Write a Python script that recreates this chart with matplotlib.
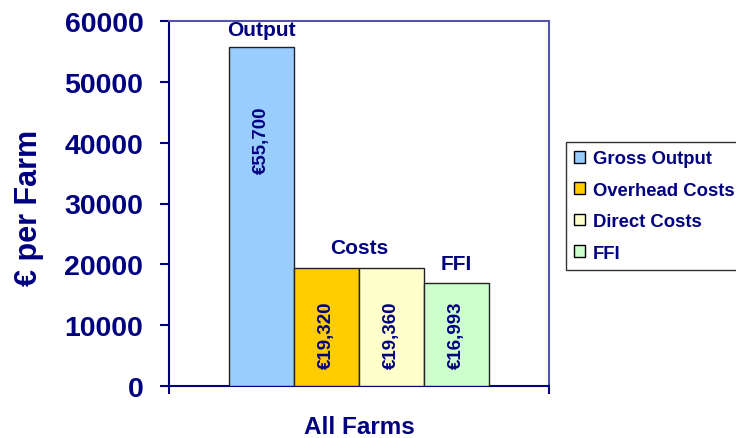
import matplotlib
matplotlib.use('Agg')
import matplotlib.pyplot as plt
import numpy as np

# Data
categories = ['Gross Output', 'Overhead Costs', 'Direct Costs', 'FFI']
values = [55700, 19320, 19360, 16993]
bar_colors = ['#99CCFF', '#FFCC00', '#FFFFCC', '#CCFFCC']
group_labels = ['Output', 'Costs', 'FFI']
x_label = 'All Farms'
y_label = '€ per Farm'
y_ticks = [0, 10000, 20000, 30000, 40000, 50000, 60000]

NAVY = '#000080'


def value_text(v):
    return '€{:,}'.format(v)


def graph(path):
    plt.rcParams['font.family'] = ['Liberation Sans', 'DejaVu Sans']
    plt.rcParams['font.weight'] = 'bold'

    fig = plt.figure(figsize=(7.36, 4.39), dpi=100)
    ax = fig.add_axes([169 / 736, 1 - 387 / 439, 380 / 736, 365 / 439])

    # Bars, one group with four series
    w = 0.171
    xs = (np.arange(len(values)) - 1.5) * w
    ax.bar(xs, values, width=w, color=bar_colors, edgecolor='#222222',
           linewidth=1.0, zorder=3)

    # Value labels inside the bars (rotated)
    label_pos = [40600, 8550, 8550, 8550]
    for x, v, yp in zip(xs, values, label_pos):
        ax.text(x, yp, value_text(v), rotation=90, ha='center', va='center',
                fontsize=13.5, fontweight='bold', color=NAVY, zorder=4)

    # Group labels above the bars
    ax.annotate(group_labels[0], (xs[0], values[0]), xytext=(0, 6),
                textcoords='offset points', ha='center', va='bottom',
                fontsize=15, fontweight='bold', color=NAVY)
    ax.annotate(group_labels[1], ((xs[1] + xs[2]) / 2, max(values[1], values[2])),
                xytext=(0, 8), textcoords='offset points', ha='center',
                va='bottom', fontsize=15, fontweight='bold', color=NAVY)
    ax.annotate(group_labels[2], (xs[3], values[3]), xytext=(0, 7),
                textcoords='offset points', ha='center', va='bottom',
                fontsize=15, fontweight='bold', color=NAVY)

    # Axes
    ax.set_xlim(-0.5, 0.5)
    ax.set_ylim(0, 60000)
    ax.set_yticks(y_ticks)
    ax.set_yticklabels([str(t) for t in y_ticks], fontsize=20.5,
                       fontweight='bold', color=NAVY)
    ax.set_xticks([-0.5, 0.5])
    ax.set_xticklabels(['', ''])
    ax.tick_params(axis='y', direction='out', length=6.5, width=1.5,
                   color=NAVY, pad=12)
    ax.tick_params(axis='x', direction='out', length=6, width=1.5,
                   color=NAVY)
    for side in ['left', 'bottom']:
        ax.spines[side].set_color(NAVY)
        ax.spines[side].set_linewidth(1.5)
    for side in ['top', 'right']:
        ax.spines[side].set_color('#5555AA')
        ax.spines[side].set_linewidth(1.5)

    fig.text(29 / 736, 1 - 208 / 439, y_label, rotation=90, ha='center',
             va='center', fontsize=22, fontweight='bold', color=NAVY)
    fig.text(359 / 736, 1 - 428 / 439, x_label, ha='center', va='center',
             fontsize=17.5, fontweight='bold', color=NAVY)

    # Legend with square markers
    handles = [plt.Rectangle((0, 0), 1, 1, facecolor=c, edgecolor='black',
                             linewidth=1.0) for c in bar_colors]
    leg = fig.legend(handles, categories, loc='upper left',
                     bbox_to_anchor=(566 / 736, 1 - 143 / 439),
                     frameon=True, fancybox=False, edgecolor='black',
                     prop={'size': 13.3, 'weight': 'bold'},
                     handlelength=0.6, handleheight=0.6, handletextpad=0.4,
                     labelspacing=0.78, borderpad=0.45, borderaxespad=0)
    leg.get_frame().set_linewidth(1.0)
    for t in leg.get_texts():
        t.set_color(NAVY)

    fig.savefig(path, dpi=100)


if __name__ == "__main__":
    graph('out.png')
